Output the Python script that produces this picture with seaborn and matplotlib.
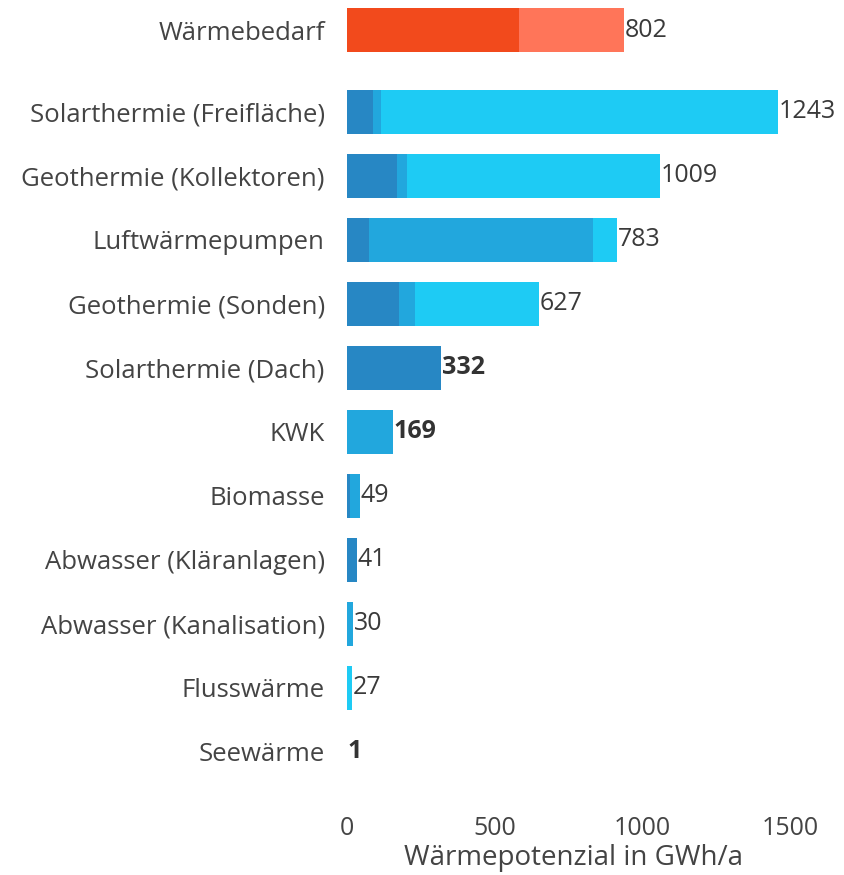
import pandas as pd
import seaborn as sns
import matplotlib.pyplot as plt

# rows, top to bottom
categories = ['Wärmebedarf', 'Solarthermie (Freifläche)', 'Geothermie (Kollektoren)',
              'Luftwärmepumpen', 'Geothermie (Sonden)', 'Solarthermie (Dach)', 'KWK',
              'Biomasse', 'Abwasser (Kläranlagen)', 'Abwasser (Kanalisation)',
              'Flusswärme', 'Seewärme']
groups = ['Bedarf'] + ['Potenzial'] * 11

# stacked segments in GWh/a
seg_dark = [582, 88, 169, 74, 176, 318, 0, 10, 34, 0, 0, 0]
seg_mid = [356, 27, 34, 759, 54, 0, 156, 34, 0, 20, 0, 0]
seg_light = [0, 1345, 857, 81, 420, 0, 0, 0, 0, 0, 17, 0]

value_labels = ['802', '1243', '1009', '783', '627', '332', '169', '49', '41', '30', '27', '1']
bold_labels = ['332', '169', '1']

ORANGE, SALMON = '#F24A1C', '#FF7559'
DARK, MID, LIGHT = '#2787C4', '#22A7DD', '#1ECBF4'


def main():
    sns.set_style('white')
    plt.rcParams['font.family'] = ['Open Sans', 'DejaVu Sans']

    gap = 1.28
    pos = [0] + [gap + i for i in range(len(categories) - 1)]

    df = pd.DataFrame({'cat': categories, 'group': groups, 'pos': pos,
                       'a': seg_dark, 'b': seg_mid, 'c': seg_light})
    df['s1'] = df['a']
    df['s2'] = df['a'] + df['b']
    df['s3'] = df['s2'] + df['c']

    fig = plt.figure(figsize=(8.44, 8.75), dpi=100)
    ax = fig.add_axes([347 / 844, 70 / 875, 453 / 844, 805 / 875])

    layers = [('s3', {'Bedarf': SALMON, 'Potenzial': LIGHT}),
              ('s2', {'Bedarf': SALMON, 'Potenzial': MID}),
              ('s1', {'Bedarf': ORANGE, 'Potenzial': DARK})]
    for col, pal in layers:
        sns.barplot(data=df, x=col, y='pos', hue='group', palette=pal,
                    orient='h', native_scale=True, dodge=False, width=0.7,
                    errorbar=None, saturation=1, linewidth=0, legend=False, ax=ax)

    for p, total, lab in zip(pos, df['s3'], value_labels):
        bold = lab in bold_labels
        ax.text(total + 3, p, lab, va='center', ha='left', fontsize=18,
                fontweight='bold' if bold else 'normal',
                color='#333333' if bold else '#3a3a3a')

    ax.set_xlim(0, 1534)
    ax.set_ylim(12.11, -0.47)
    ax.set_yticks(pos)
    ax.set_yticklabels(categories, fontsize=18.5, color='#444444')
    ax.tick_params(axis='y', length=0, pad=16)
    ax.set_xticks([0, 500, 1000, 1500])
    ax.tick_params(axis='x', length=3, width=0.8, color='#999999',
                   labelsize=18, labelcolor='#444444', pad=5)
    ax.set_xlabel('Wärmepotenzial in GWh/a', fontsize=20, color='#444444', labelpad=2)
    ax.set_ylabel('')
    sns.despine(ax=ax, left=True, bottom=True)

    fig.savefig('out.png', dpi=100)
    plt.close(fig)


if __name__ == '__main__':
    main()
